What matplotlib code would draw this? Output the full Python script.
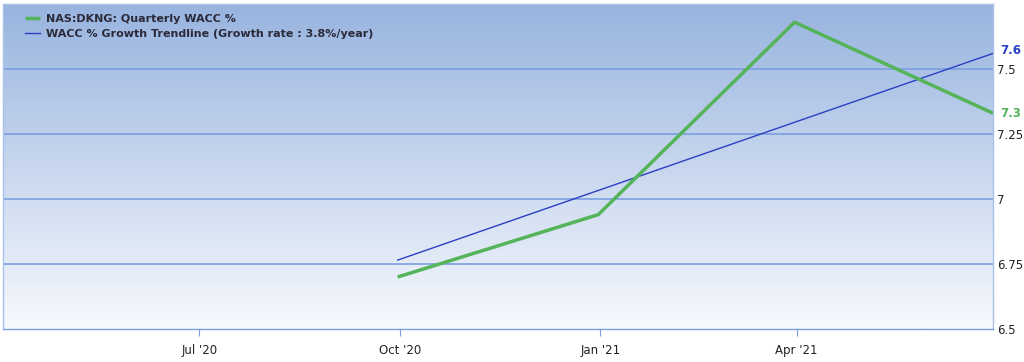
import matplotlib.pyplot as plt
import matplotlib.dates as mdates
import numpy as np
from datetime import date
from matplotlib.colors import LinearSegmentedColormap

# quarterly WACC values
wacc_dates = [date(2020, 9, 30), date(2020, 12, 31), date(2021, 3, 31), date(2021, 6, 30)]
wacc_vals = [6.70, 6.94, 7.68, 7.33]

# trendline end points
trend_dates = [date(2020, 9, 30), date(2021, 6, 30)]
trend_vals = [6.765, 7.56]

xticks = [date(2020, 7, 1), date(2020, 10, 1), date(2021, 1, 1), date(2021, 4, 1)]
xticklabels = ["Jul '20", "Oct '20", "Jan '21", "Apr '21"]
yticks = [6.5, 6.75, 7, 7.25, 7.5]
yticklabels = ['6.5', '6.75', '7', '7.25', '7.5']

GREEN = '#55b45a'
BLUE = '#2b3fc4'
GRID = '#7a9fe0'

fig = plt.figure(figsize=(10.24, 3.62), dpi=100)
ax = fig.add_axes([3 / 1024, 33 / 362, 990 / 1024, 325 / 362])

# gradient background
cmap = LinearSegmentedColormap.from_list('bg', ['#f7f9fd', '#98b4df'])
grad = np.linspace(0, 1, 256).reshape(-1, 1)
ax.imshow(grad, cmap=cmap, aspect='auto', extent=[0, 1, 0, 1],
          transform=ax.transAxes, origin='lower', zorder=0)

ax.set_xlim(date(2020, 4, 2), date(2021, 6, 30))
ax.set_ylim(6.5, 7.75)

for y in yticks[1:]:
    ax.axhline(y, color=GRID, lw=1.2, zorder=1)

ax.plot(trend_dates, trend_vals, color=BLUE, lw=1.0, zorder=3,
        label='WACC % Growth Trendline (Growth rate : 3.8%/year)')
ax.plot(wacc_dates, wacc_vals, color=GREEN, lw=2.5, zorder=4,
        solid_capstyle='butt', label='NAS:DKNG: Quarterly WACC %')

ax.yaxis.tick_right()
ax.set_yticks(yticks)
ax.set_yticklabels(yticklabels)
ax.set_xticks(xticks)
ax.set_xticklabels(xticklabels)
ax.tick_params(axis='y', length=0, pad=3, labelsize=8.5, labelcolor='#222222')
ax.tick_params(axis='x', length=5, width=0.8, color=GRID, pad=6,
               labelsize=8.5, labelcolor='#222222')
for s in ax.spines.values():
    s.set_color('#a9c1e8')
    s.set_linewidth(1.0)
ax.spines['bottom'].set_color(GRID)

# end labels
ax.annotate('7.6', xy=(1, trend_vals[-1]), xycoords=('axes fraction', 'data'),
            xytext=(5, 2), textcoords='offset points', color=BLUE,
            fontsize=8.5, fontweight='bold', va='center')
ax.annotate('7.3', xy=(1, wacc_vals[-1]), xycoords=('axes fraction', 'data'),
            xytext=(5, 0), textcoords='offset points', color=GREEN,
            fontsize=8.5, fontweight='bold', va='center')

handles, labels = ax.get_legend_handles_labels()
leg = ax.legend(handles[::-1], labels[::-1], loc='upper left', frameon=False,
                prop={'size': 8.0, 'weight': 'bold'}, handlelength=1.4,
                handletextpad=0.5, labelspacing=0.45,
                bbox_to_anchor=(0.012, 1.0))
for t in leg.get_texts():
    t.set_color('#2a2a3a')

fig.savefig('out.png', dpi=100, facecolor='white')
